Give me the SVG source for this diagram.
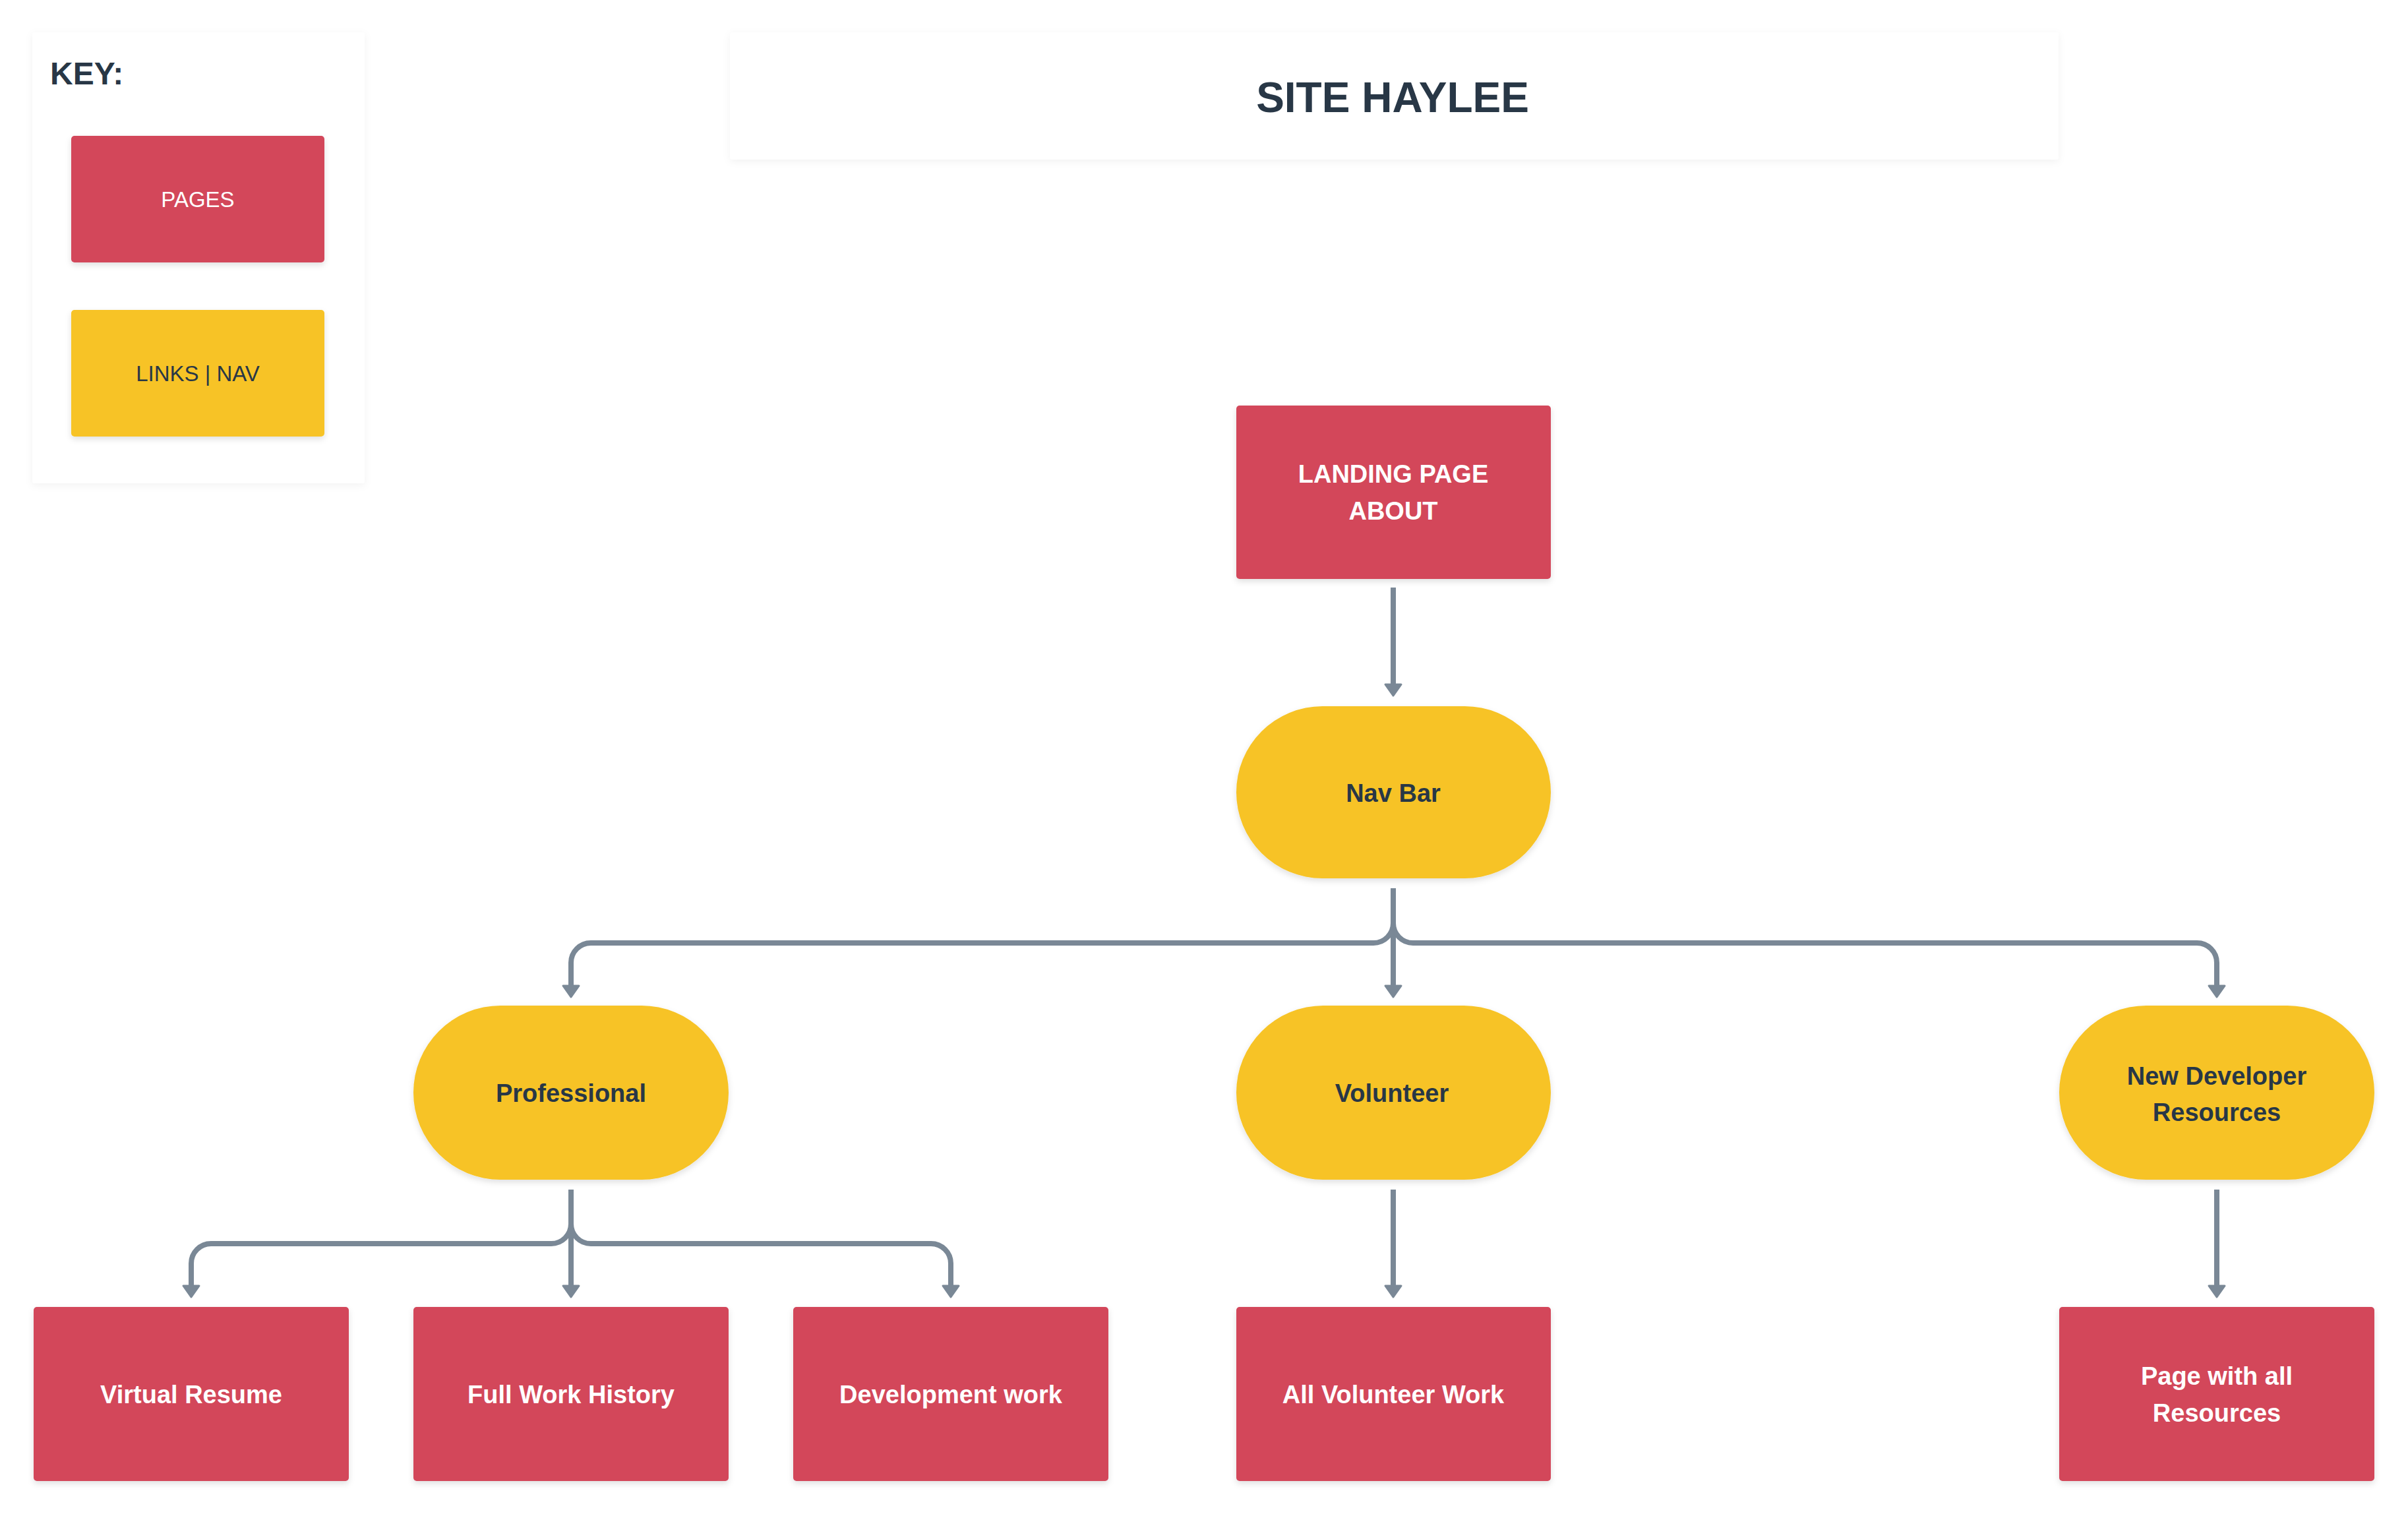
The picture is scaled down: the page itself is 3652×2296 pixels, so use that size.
<svg xmlns="http://www.w3.org/2000/svg" width="3652" height="2296" viewBox="0 0 3652 2296">
<defs>
<filter id="sh" x="-10%" y="-10%" width="120%" height="130%">
<feDropShadow dx="0" dy="4" stdDeviation="5" flood-color="#000" flood-opacity="0.12"/>
</filter>
<filter id="shp" x="-10%" y="-10%" width="120%" height="130%">
<feDropShadow dx="0" dy="3" stdDeviation="6" flood-color="#000" flood-opacity="0.05"/>
</filter>
<marker id="arr" markerUnits="userSpaceOnUse" markerWidth="40" markerHeight="40" refX="0" refY="0" viewBox="-5 -20 30 40" orient="auto" overflow="visible">
<path d="M0,-12 L17,0 L0,12 Z" fill="#7a8896" stroke="#7a8896" stroke-width="3" stroke-linejoin="round"/>
</marker>
</defs>
<style>
.page{fill:#d3465a;filter:url(#sh)}
.nav{fill:#f7c325;filter:url(#sh)}
.panel{fill:#ffffff;filter:url(#shp)}
.t{font-family:"Liberation Sans",Arial,sans-serif;font-weight:bold;font-size:38px;text-anchor:middle}
.w{fill:#ffffff}
.d{fill:#283746}
.key{font-family:"Liberation Sans",Arial,sans-serif;font-size:33px;text-anchor:middle}
.c{fill:none;stroke:#7a8896;stroke-width:8;stroke-linejoin:round;marker-end:url(#arr)}
</style>
<rect width="3652" height="2296" fill="#ffffff"/>

<g id="key">
<rect class="panel" x="49" y="49" width="504" height="684" rx="4"/>
<text x="76" y="128" font-family="Liberation Sans,Arial,sans-serif" font-weight="bold" font-size="48" fill="#283746">KEY:</text>
<rect class="page" x="108" y="206" width="384" height="192" rx="5"/>
<text class="key w" x="300" y="314">PAGES</text>
<rect class="nav" x="108" y="470" width="384" height="192" rx="5"/>
<text class="key d" x="300" y="578">LINKS | NAV</text>
</g>

<g id="title">
<rect class="panel" x="1107" y="49" width="2015" height="193" rx="4"/>
<text x="2112" y="170" font-family="Liberation Sans,Arial,sans-serif" font-weight="bold" font-size="64" fill="#283746" text-anchor="middle">SITE HAYLEE</text>
</g>

<g id="connectors">
<path class="c" d="M2113,891 V1038"/>
<path class="c" d="M2113,1347 V1400 A30,30 0 0 1 2083,1430 H896 A30,30 0 0 0 866,1460 V1495"/>
<path class="c" d="M2113,1347 V1495"/>
<path class="c" d="M2113,1347 V1400 A30,30 0 0 0 2143,1430 H3332 A30,30 0 0 1 3362,1460 V1495"/>
<path class="c" d="M866,1804 V1856 A30,30 0 0 1 836,1886 H320 A30,30 0 0 0 290,1916 V1950"/>
<path class="c" d="M866,1804 V1950"/>
<path class="c" d="M866,1804 V1856 A30,30 0 0 0 896,1886 H1412 A30,30 0 0 1 1442,1916 V1950"/>
<path class="c" d="M2113,1804 V1950"/>
<path class="c" d="M3362,1804 V1950"/>
</g>

<g id="landing">
<rect class="page" x="1875" y="615" width="477" height="263" rx="5"/>
<text class="t w" x="2113" y="732">LANDING PAGE</text>
<text class="t w" x="2113" y="788">ABOUT</text>
</g>

<g id="navbar">
<rect class="nav" x="1875" y="1071" width="477" height="261" rx="130.5"/>
<text class="t d" x="2113" y="1216">Nav Bar</text>
</g>

<g id="professional">
<rect class="nav" x="627" y="1525" width="478" height="264" rx="132"/>
<text class="t d" x="866" y="1671">Professional</text>
</g>

<g id="volunteer">
<rect class="nav" x="1875" y="1525" width="477" height="264" rx="132"/>
<text class="t d" x="2111" y="1671">Volunteer</text>
</g>

<g id="newdev">
<rect class="nav" x="3123" y="1525" width="478" height="264" rx="132"/>
<text class="t d" x="3362" y="1645">New Developer</text>
<text class="t d" x="3362" y="1700">Resources</text>
</g>

<g id="virtualresume">
<rect class="page" x="51" y="1982" width="478" height="264" rx="5"/>
<text class="t w" x="290" y="2128">Virtual Resume</text>
</g>

<g id="fullwork">
<rect class="page" x="627" y="1982" width="478" height="264" rx="5"/>
<text class="t w" x="866" y="2128">Full Work History</text>
</g>

<g id="devwork">
<rect class="page" x="1203" y="1982" width="478" height="264" rx="5"/>
<text class="t w" x="1442" y="2128">Development work</text>
</g>

<g id="allvolunteer">
<rect class="page" x="1875" y="1982" width="477" height="264" rx="5"/>
<text class="t w" x="2113" y="2128">All Volunteer Work</text>
</g>

<g id="pageresources">
<rect class="page" x="3123" y="1982" width="478" height="264" rx="5"/>
<text class="t w" x="3362" y="2100">Page with all</text>
<text class="t w" x="3362" y="2156">Resources</text>
</g>
</svg>
